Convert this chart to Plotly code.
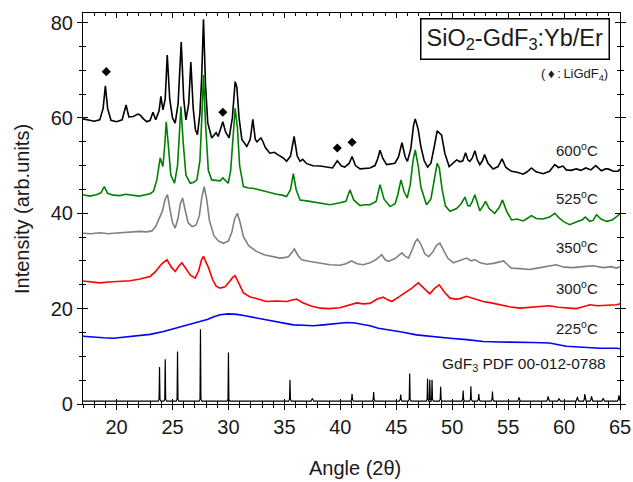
import plotly.graph_objects as go

# ---------------- data ----------------
x600 = [17.0, 17.5, 18.0, 18.5, 18.8, 19.0, 19.2, 19.5, 20.0, 20.5, 20.85, 21.1, 21.5, 21.9, 22.1, 22.4, 22.7, 23.0,
        23.25, 23.5, 23.8, 23.96, 24.15, 24.35, 24.53, 24.75, 25.0, 25.24, 25.5, 25.78, 26.0, 26.2, 26.45, 26.64,
        26.85, 27.05, 27.23, 27.45, 27.6, 27.77, 27.95, 28.15, 28.5, 28.9, 29.08, 29.5, 29.75, 30.06, 30.35, 30.6,
        30.75, 30.95, 31.2, 31.64, 31.95, 32.18, 32.4, 32.55, 32.9, 33.05, 33.3, 33.7, 34.1, 34.55, 34.9, 35.2,
        35.55, 35.87, 36.15, 36.4, 36.64, 37.0, 37.56, 38.2, 38.8, 39.3, 39.73, 40.1, 40.4, 40.8, 41.05, 41.35,
        41.76, 42.2, 42.65, 43.1, 43.35, 43.55, 43.8, 44.14, 44.5, 44.88, 45.2, 45.51, 45.8, 46.0, 46.3, 46.55,
        46.7, 46.97, 47.2, 47.5, 47.8, 48.1, 48.4, 48.66, 49.05, 49.35, 49.73, 50.1, 50.4, 50.7, 50.95, 51.2,
        51.4, 51.58, 51.8, 52.03, 52.25, 52.47, 52.7, 52.9, 53.2, 53.66, 54.1, 54.46, 54.8, 55.3, 55.8, 56.34,
        56.7, 57.09, 57.5, 58.13, 58.7, 59.17, 59.5, 59.9, 60.2, 60.6, 61.1, 61.5, 61.94, 62.4, 62.83, 63.34,
        63.7, 63.93, 64.4, 64.82, 65.0]
y600 = [59.8, 59.5, 59.3, 59.6, 62.0, 66.7, 62.0, 59.5, 59.2, 59.6, 62.7, 60.2, 60.3, 60.8, 60.6, 59.8, 59.2, 59.5,
        61.2, 59.6, 61.5, 64.5, 61.7, 64.0, 73.2, 64.0, 60.0, 58.9, 63.0, 75.9, 64.0, 59.6, 63.0, 71.7,
        62.0, 57.5, 56.5, 61.0, 68.0, 80.7, 67.0, 59.0, 55.8, 56.9, 56.1, 59.2, 57.0, 55.8, 60.0, 67.6,
        66.5, 60.0, 55.5, 54.0, 55.5, 59.7, 55.5, 55.0, 55.8, 55.2, 53.8, 52.6, 52.8, 52.1, 51.6, 50.9,
        52.0, 56.1, 52.0, 50.9, 51.3, 50.4, 49.96, 49.9, 49.7, 49.5, 51.0, 49.9, 49.7, 50.5, 51.9, 50.0,
        49.3, 49.4, 49.5, 50.0, 51.5, 53.2, 51.5, 50.2, 50.3, 50.5, 51.8, 54.8, 51.8, 50.9, 53.5, 58.5,
        59.8, 57.5, 54.0, 51.0, 49.7, 50.5, 54.0, 57.3, 56.4, 52.5, 49.8, 50.6, 51.2, 50.8, 51.0, 52.7,
        51.2, 50.9, 51.6, 53.1, 51.2, 50.2, 51.0, 52.3, 50.5, 49.3, 49.8, 51.4, 49.6, 48.8, 48.6, 48.2,
        48.7, 49.5, 48.7, 48.3, 48.8, 50.2, 49.6, 49.9, 49.1, 49.0, 49.3, 49.0, 49.5, 49.1, 50.0, 48.9,
        49.3, 49.3, 48.8, 48.8, 49.3]

x525 = [17.0, 17.6, 18.2, 18.6, 18.9, 19.2, 19.7, 20.3, 20.8, 21.4, 22.0, 22.6, 23.0, 23.3, 23.6, 23.9, 24.14,
        24.3, 24.44, 24.6, 24.85, 25.18, 25.45, 25.6, 25.75, 25.95, 26.2, 26.58, 26.9, 27.18, 27.45, 27.62,
        27.77, 27.95, 28.2, 28.5, 29.0, 29.25, 29.5, 29.98, 30.2, 30.45, 30.6, 30.8, 31.0, 31.34, 31.8, 32.3,
        32.8, 33.5, 34.3, 34.8, 35.2, 35.55, 35.8, 36.05, 36.4, 37.0, 37.8, 38.5, 39.08, 39.97, 40.5, 40.86,
        41.2, 41.76, 42.2, 42.65, 43.2, 43.55, 43.9, 44.44, 44.9, 45.15, 45.42, 45.7, 45.98, 46.25, 46.5,
        46.7, 46.97, 47.2, 47.7, 48.1, 48.4, 48.66, 48.85, 49.1, 49.4, 49.8, 50.4, 50.8, 51.14, 51.4, 51.58,
        51.8, 52.03, 52.25, 52.47, 52.75, 52.98, 53.3, 53.8, 54.2, 54.5, 54.85, 55.3, 55.8, 56.34, 56.7,
        57.09, 57.5, 58.1, 58.7, 59.17, 59.6, 60.0, 60.5, 60.9, 61.25, 61.6, 61.9, 62.3, 62.6, 62.9, 63.3,
        63.8, 64.3, 64.7, 65.0]
y525 = [43.9, 43.6, 43.9, 44.3, 45.6, 44.2, 43.8, 43.7, 44.0, 43.8, 43.6, 43.9, 44.1, 44.6, 47.0, 51.6, 49.8,
        54.0, 59.2, 55.0, 48.0, 46.3, 50.0, 56.0, 62.4, 55.0, 48.0, 46.3, 46.5, 47.0, 51.0, 60.0,
        69.0, 59.0, 49.0, 47.0, 46.8, 46.8, 47.4, 46.3, 49.0, 58.0, 62.0, 58.0, 50.0, 45.6, 45.3, 45.2,
        44.9, 44.4, 44.0, 43.8, 43.5, 45.0, 48.3, 45.0, 42.8, 42.6, 42.3, 42.1, 41.8, 42.2, 42.5, 44.9,
        42.8, 41.6, 41.8, 41.8, 42.5, 46.0, 43.0, 41.4, 42.0, 44.0, 47.0, 44.5, 43.2, 46.0, 51.0,
        53.3, 49.8, 45.5, 41.8, 43.0, 47.5, 50.5, 49.5, 45.0, 41.5, 40.4, 41.0, 42.0, 43.4, 41.6, 41.5,
        42.5, 43.9, 42.0, 40.5, 41.5, 42.5, 41.0, 40.0, 41.2, 42.8, 40.5, 38.6, 38.8, 38.4, 38.9,
        39.5, 38.9, 38.8, 39.2, 40.0, 38.9, 38.2, 37.6, 37.9, 38.3, 38.6, 39.2, 38.3, 38.5, 39.7, 38.8,
        38.3, 38.6, 39.3, 39.9]

x350 = [17.0, 17.7, 18.5, 19.3, 19.73, 20.5, 21.3, 22.1, 22.7, 23.16, 23.5, 23.75, 24.1, 24.35, 24.55, 24.8, 25.0,
        25.24, 25.5, 25.7, 25.9, 26.1, 26.4, 26.75, 27.1, 27.4, 27.6, 27.83, 28.05, 28.3, 28.7, 29.1, 29.55,
        30.0, 30.3, 30.55, 30.8, 31.05, 31.34, 31.8, 32.5, 33.2, 33.9, 34.6, 35.0, 35.36, 35.65, 35.9, 36.2,
        36.55, 37.3, 38.2, 39.08, 39.97, 40.5, 41.0, 41.5, 42.05, 42.65, 43.2, 43.7, 44.0, 44.3, 44.9, 45.2,
        45.5, 45.8, 46.1, 46.45, 46.7, 46.9, 47.2, 47.55, 47.9, 48.3, 48.6, 48.9, 49.2, 49.6, 50.1, 50.6,
        51.0, 51.3, 51.7, 52.03, 52.5, 53.1, 53.7, 54.2, 54.6, 55.0, 55.3, 56.1, 56.9, 57.6, 58.4, 59.3,
        60.0, 60.8, 61.7, 62.6, 63.5, 64.2, 64.7, 65.0]
y350 = [35.8, 35.7, 35.9, 35.7, 35.8, 35.9, 36.0, 36.2, 36.1, 36.3, 37.2, 38.6, 40.5, 43.0, 43.9, 40.5, 38.0,
        36.9, 39.0, 42.0, 43.2, 41.0, 38.0, 37.2, 37.5, 39.5, 43.0, 45.6, 43.0, 38.5, 35.3, 34.2, 33.7,
        34.2, 36.0, 38.8, 40.0, 38.0, 35.1, 33.2, 32.0, 31.3, 30.9, 30.6, 30.7, 30.9, 31.7, 32.5, 31.2,
        30.25, 29.9, 29.6, 29.2, 29.1, 29.4, 30.0, 29.4, 29.2, 29.6, 30.3, 31.3, 30.3, 29.9, 30.5, 31.2,
        31.7, 31.0, 30.6, 32.5, 34.0, 34.6, 33.5, 31.5, 30.9, 32.0, 33.3, 33.75, 32.5, 30.6, 29.6, 30.0,
        30.4, 30.6, 30.0, 30.3, 29.6, 29.3, 29.5, 29.8, 30.0, 29.1, 28.5, 28.4, 28.2, 28.5, 28.8, 29.2,
        28.7, 28.6, 28.8, 29.0, 28.6, 28.8, 28.5, 28.8]

x300 = [17.0, 17.8, 18.5, 19.3, 20.2, 21.2, 22.1, 23.0, 23.5, 24.0, 24.5, 24.9, 25.24, 25.55, 25.84, 26.2, 26.6,
        27.03, 27.35, 27.6, 27.77, 28.0, 28.2, 28.6, 28.9, 29.25, 29.7, 30.1, 30.4, 30.6, 30.9, 31.34, 31.9,
        32.6, 33.4, 34.3, 35.2, 35.7, 36.1, 36.6, 37.3, 38.2, 39.0, 39.97, 40.8, 41.46, 42.05, 42.65, 43.3,
        43.84, 44.2, 44.6, 45.2, 45.78, 46.4, 46.97, 47.4, 48.0, 48.4, 48.84, 49.3, 49.8, 50.3, 50.7, 51.28,
        52.0, 52.77, 53.5, 54.26, 55.1, 56.05, 57.0, 57.9, 58.7, 59.5, 60.3, 61.1, 61.7, 62.3, 63.0, 63.8,
        64.7, 65.0]
y300 = [25.8, 25.6, 25.4, 25.6, 25.7, 25.85, 26.2, 26.75, 27.8, 29.3, 30.25, 28.7, 27.8, 28.9, 29.6, 28.4, 27.0,
        26.4, 28.0, 30.3, 30.95, 29.7, 28.7, 26.0, 24.7, 24.3, 24.6, 25.7, 26.6, 26.9, 25.3, 23.3, 22.5,
        22.0, 21.5, 21.6, 21.5, 21.8, 22.0, 21.3, 20.6, 20.1, 20.0, 20.2, 20.8, 21.2, 21.0, 21.1, 22.0,
        22.4, 21.9, 21.5, 22.4, 23.3, 24.3, 25.4, 24.5, 23.1, 24.2, 25.0, 23.5, 22.2, 22.0, 22.1, 22.6,
        22.0, 21.5, 21.2, 20.8, 20.4, 20.1, 20.3, 20.5, 20.6, 20.3, 20.1, 20.0, 20.4, 20.8, 20.6, 20.7,
        20.8, 21.0]

x225 = [17.0, 17.9, 18.8, 19.73, 20.7, 21.8, 23.0, 24.2, 25.3, 26.3, 27.2, 28.1, 28.7, 29.25, 30.0, 30.75, 31.5,
        32.2, 33.1, 34.0, 34.9, 35.8, 36.7, 37.6, 38.5, 39.4, 40.57, 41.3, 42.05, 42.65, 43.4, 44.3, 45.5,
        46.8, 48.3, 49.8, 51.3, 52.77, 54.2, 55.75, 57.2, 58.7, 59.5, 60.2, 61.7, 63.2, 64.7, 65.0]
y225 = [14.2, 14.0, 13.9, 13.8, 14.0, 14.2, 14.6, 15.2, 15.9, 16.6, 17.1, 17.7, 18.3, 18.7, 18.9, 18.8, 18.5,
        18.2, 17.8, 17.5, 17.0, 16.6, 16.5, 16.4, 16.6, 16.8, 17.1, 17.0, 16.7, 16.4, 15.9, 15.6, 15.1,
        14.5, 14.1, 13.8, 13.5, 13.1, 13.0, 13.0, 12.9, 12.8, 12.4, 12.1, 11.9, 11.7, 11.7, 11.6]

# GdF3 reference pattern (PDF 00-012-0788): peak positions and heights
pdf_pos = [23.84, 24.35, 25.45, 27.5, 30.0, 35.5, 37.5, 41.05, 42.98, 45.4, 46.2, 47.8, 48.0, 48.2, 48.97,
           50.98, 51.67, 52.38, 53.6, 55.98, 58.57, 59.55, 61.2, 61.85, 62.45, 63.5, 64.9]
pdf_int = [7.75, 9.4, 11.0, 15.7, 10.8, 5.1, 1.1, 2.1, 2.5, 2.0, 6.4, 5.3, 5.1, 5.1, 3.6,
           2.8, 3.7, 2.1, 2.6, 1.4, 1.6, 1.1, 1.5, 2.1, 1.6, 1.2, 1.8]
pdf_base = 0.6

# LiGdF4 markers
li_x = [19.08, 29.5, 39.73, 41.05]
li_y = [69.7, 61.2, 53.7, 54.9]

temp_labels = ["600<sup>o</sup>C", "525<sup>o</sup>C", "350<sup>o</sup>C", "300<sup>o</sup>C", "225<sup>o</sup>C"]
temp_label_y = [53.3, 43.3, 33.0, 24.4, 16.0]

# ---------------- build stick pattern ----------------
px, py = [17.0], [pdf_base]
for p, h in zip(pdf_pos, pdf_int):
    px += [p - 0.12, p - 0.04, p, p + 0.04, p + 0.12]
    py += [pdf_base, pdf_base + 0.4, h, pdf_base + 0.4, pdf_base]
px.append(65.0)
py.append(pdf_base)

FONT = "Liberation Sans, Arial, sans-serif"
TXT = "#1a1a1a"
fig = go.Figure()
series = [(x600, y600, "#000000"), (x525, y525, "#008000"), (x350, y350, "#808080"),
          (x300, y300, "#ff0000"), (x225, y225, "#0000ff")]
for xs, ys, c in series:
    fig.add_trace(go.Scatter(x=xs, y=ys, mode="lines", line=dict(color=c, width=1.6), showlegend=False))
fig.add_trace(go.Scatter(x=px, y=py, mode="lines", line=dict(color="#000000", width=1.2), showlegend=False))
fig.add_trace(go.Scatter(x=li_x, y=li_y, mode="markers", marker=dict(symbol="diamond", size=7, color="#000000"),
                         showlegend=False))
# helper traces so the overlay axes are drawn
fig.add_trace(go.Scatter(x=[None], y=[None], xaxis="x2", yaxis="y2", showlegend=False, hoverinfo="skip"))
fig.add_trace(go.Scatter(x=[None], y=[None], xaxis="x", yaxis="y3", showlegend=False, hoverinfo="skip"))

XR = [17, 65]
YR = [0, 82]
tickfont = dict(family=FONT, size=20, color=TXT)
fig.update_layout(
    width=633, height=482, autosize=False,
    margin=dict(l=83, r=13, t=13, b=78, autoexpand=False),
    paper_bgcolor="white", plot_bgcolor="white",
    xaxis=dict(range=XR, showgrid=False, zeroline=False, showline=True, linecolor="black", linewidth=1.2,
               mirror=True, ticks="outside", ticklen=5, tickwidth=1.2, tickcolor="black", tick0=0, dtick=5,
               automargin=False,
               tickfont=tickfont, minor=dict(dtick=1, ticks="outside", ticklen=3, tickcolor="black", tickwidth=1)),
    yaxis=dict(range=YR, showgrid=False, zeroline=False, showline=True, linecolor="black", linewidth=1.2,
               mirror=True, ticks="outside", ticklen=5, tickwidth=1.2, tickcolor="black", tick0=0, dtick=20,
               automargin=False,
               tickfont=tickfont, minor=dict(dtick=5, ticks="outside", ticklen=3, tickcolor="black", tickwidth=1)),
    xaxis2=dict(range=XR, overlaying="x", anchor="y", showgrid=False, zeroline=False, showline=False,
                ticks="inside", mirror="allticks", ticklen=5, tickwidth=1.2, tickcolor="black", tick0=0, dtick=5,
                showticklabels=False, automargin=False,
                minor=dict(dtick=1, ticks="inside", ticklen=3, tickcolor="black", tickwidth=1)),
    yaxis2=dict(range=YR, overlaying="y", anchor="x", showgrid=False, zeroline=False, showline=False,
                ticks="inside", mirror="allticks", ticklen=5, tickwidth=1.2, tickcolor="black", tick0=0, dtick=20,
                showticklabels=False, automargin=False,
                minor=dict(dtick=5, ticks="inside", ticklen=3, tickcolor="black", tickwidth=1)),
    yaxis3=dict(range=YR, overlaying="y", anchor="x", side="right", showgrid=False, zeroline=False,
                showline=False, ticks="outside", ticklen=5, tickwidth=1.2, tickcolor="black", tick0=0, dtick=20,
                showticklabels=False, automargin=False,
                minor=dict(dtick=5, ticks="outside", ticklen=3, tickcolor="black", tickwidth=1)),
)

ann = []
for t, yv in zip(temp_labels, temp_label_y):
    ann.append(dict(x=61.2, y=yv, xref="x", yref="y", text=t, showarrow=False,
                    font=dict(family=FONT, size=15, color=TXT)))
ann.append(dict(x=63.9, y=8.25, xref="x", yref="y", xanchor="right", text="GdF<sub>3</sub> PDF 00-012-0788",
                showarrow=False, font=dict(family=FONT, size=15.5, color=TXT)))
ann.append(dict(x=55.58, y=76.5, xref="x", yref="y", text="SiO<sub>2</sub>-GdF<sub>3</sub>:Yb/Er",
                showarrow=False, font=dict(family=FONT, size=23.5, color=TXT),
                bordercolor="black", borderwidth=1.5, borderpad=5, bgcolor="white"))
ann.append(dict(x=64.15, y=69.0, xref="x", yref="y", xanchor="right",
                text="(\u2009\u2666\u2009:\u2009LiGdF<sub>4</sub>)",
                showarrow=False, font=dict(family=FONT, size=13, color=TXT)))
ann.append(dict(x=-0.1136, y=0.4987, xref="paper", yref="paper", xanchor="center", yanchor="middle",
                text="Intensity (arb.units)", textangle=-90,
                showarrow=False, font=dict(family=FONT, size=20, color=TXT)))
ann.append(dict(x=(355 - 83) / 537, y=(404 - 468) / 391, xref="paper", yref="paper", xanchor="center",
                yanchor="middle", text="Angle (2\u03b8)",
                showarrow=False, font=dict(family=FONT, size=20, color=TXT)))
fig.update_layout(annotations=ann)

fig.write_html("out.html", config={"displayModeBar": False, "responsive": False},
               post_script="document.body.style.margin='0';document.body.style.padding='0';"
                           "document.body.style.overflow='hidden';")
